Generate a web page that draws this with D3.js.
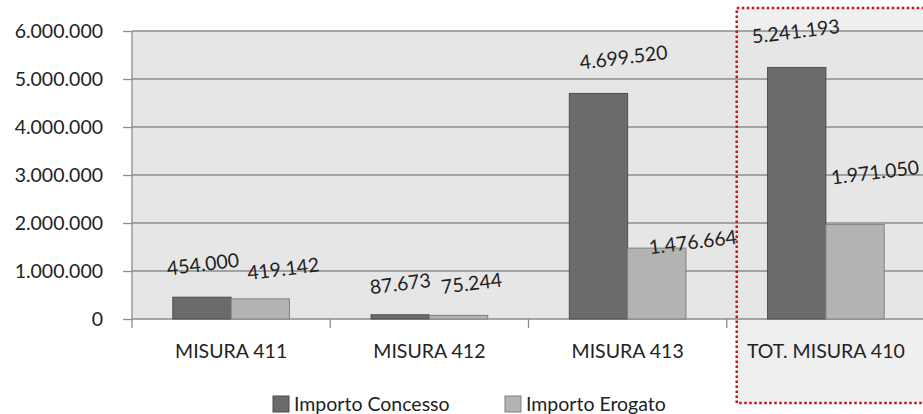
<!DOCTYPE html>
<html>
<head>
<meta charset="utf-8">
<script src="https://cdn.jsdelivr.net/npm/d3@7"></script>
<style>
  body { margin: 0; background: #fff; }
  text { font-family: Lato, "Open Sans", sans-serif; fill: #222; }
</style>
</head>
<body>
<div id="chart"></div>
<script>
// data
const CATEGORIES = ["MISURA 411", "MISURA 412", "MISURA 413", "TOT. MISURA 410"];
const SERIES = ["Importo Concesso", "Importo Erogato"];
const CONCESSO = [454000, 87673, 4699520, 5241193];
const EROGATO = [419142, 75244, 1476664, 1971050];
const Y_TICKS = [0, 1000000, 2000000, 3000000, 4000000, 5000000, 6000000];

// label nudges (the original labels were dragged by hand)
const NUDGE_CONCESSO = [[1, -33], [0, -31], [25, -36], [-1, -36]];
const NUDGE_EROGATO = [[23, -30], [13, -32], [36, -6], [20, -52]];

const WIDTH = 923, HEIGHT = 414;
const MARGIN = {top: 31, left: 132, right: -2, bottom: 95};
const COLORS = {fill: ["#6b6b6b", "#b3b3b3"], stroke: ["#4d4d4d", "#808080"]};
const FONT = "19.5px";

const fmt = d3.formatLocale({decimal: ",", thousands: ".", grouping: [3], currency: ["", "€"]}).format(",d");

const svg = d3.select("#chart").append("svg")
  .attr("width", WIDTH)
  .attr("height", HEIGHT);

const x = d3.scaleBand()
  .domain(CATEGORIES)
  .range([MARGIN.left, WIDTH - MARGIN.right]);

const x1 = d3.scaleBand()
  .domain(SERIES)
  .range([0, x.bandwidth()])
  .paddingOuter(0.7);

const y = d3.scaleLinear()
  .domain([0, 6000000])
  .range([HEIGHT - MARGIN.bottom, MARGIN.top]);

// highlight box behind the last category
svg.append("rect")
  .attr("x", x(CATEGORIES[3]) + 10)
  .attr("y", 8)
  .attr("width", 200)
  .attr("height", 395)
  .attr("fill", "#efefef");

// plot background
svg.append("rect")
  .attr("x", MARGIN.left)
  .attr("y", MARGIN.top)
  .attr("width", WIDTH - MARGIN.right - MARGIN.left)
  .attr("height", y(0) - MARGIN.top)
  .attr("fill", "#e6e6e6");

// grid + y axis
const yAxis = svg.append("g")
  .attr("transform", `translate(${MARGIN.left},0)`)
  .call(d3.axisLeft(y).tickValues(Y_TICKS).tickFormat(fmt).tickSize(9).tickPadding(20));
yAxis.select(".domain").remove();
yAxis.selectAll("text").style("font-size", FONT).attr("dy", "0.35em");
yAxis.selectAll(".tick line").attr("stroke", "#8c8c8c").attr("stroke-width", 1.3);

svg.append("g")
  .selectAll("line")
  .data(Y_TICKS)
  .join("line")
  .attr("x1", MARGIN.left)
  .attr("x2", WIDTH)
  .attr("y1", d => y(d))
  .attr("y2", d => y(d))
  .attr("stroke", "#8c8c8c")
  .attr("stroke-width", 1.3);

svg.append("line")
  .attr("x1", MARGIN.left).attr("x2", MARGIN.left)
  .attr("y1", MARGIN.top).attr("y2", y(0) + 9)
  .attr("stroke", "#8c8c8c")
  .attr("stroke-width", 1.3);

// category ticks
svg.append("g")
  .selectAll("line")
  .data(CATEGORIES.slice(1))
  .join("line")
  .attr("x1", d => x(d)).attr("x2", d => x(d))
  .attr("y1", y(0)).attr("y2", y(0) + 9)
  .attr("stroke", "#8c8c8c")
  .attr("stroke-width", 1.3);

// bars
const rows = CATEGORIES.map((c, i) => ({cat: c, values: [CONCESSO[i], EROGATO[i]], i: i}));

const groups = svg.append("g")
  .selectAll("g")
  .data(rows)
  .join("g")
  .attr("transform", d => `translate(${x(d.cat)},0)`);

groups.selectAll("rect")
  .data(d => d.values.map((v, s) => ({v: v, s: s, i: d.i})))
  .join("rect")
  .attr("x", d => x1(SERIES[d.s]))
  .attr("y", d => y(d.v))
  .attr("width", x1.bandwidth())
  .attr("height", d => y(0) - y(d.v))
  .attr("fill", d => COLORS.fill[d.s])
  .attr("stroke", d => COLORS.stroke[d.s])
  .attr("stroke-width", 1);

// value labels
groups.selectAll("text")
  .data(d => d.values.map((v, s) => ({v: v, s: s, i: d.i})))
  .join("text")
  .attr("transform", d => {
    const n = d.s === 0 ? NUDGE_CONCESSO[d.i] : NUDGE_EROGATO[d.i];
    const cx = x1(SERIES[d.s]) + x1.bandwidth() / 2 + n[0];
    const cy = y(d.v) + n[1];
    return `translate(${cx},${cy}) rotate(-7)`;
  })
  .attr("text-anchor", "middle")
  .attr("dy", "0.35em")
  .style("font-size", FONT)
  .text(d => fmt(d.v));

// category labels
svg.append("g")
  .selectAll("text")
  .data(CATEGORIES)
  .join("text")
  .attr("x", d => x(d) + x.bandwidth() / 2)
  .attr("y", y(0) + 32)
  .attr("dy", "0.35em")
  .attr("text-anchor", "middle")
  .style("font-size", FONT)
  .text(d => d);

// dotted red frame
svg.append("rect")
  .attr("x", x(CATEGORIES[3]) + 10)
  .attr("y", 8)
  .attr("width", 200)
  .attr("height", 395)
  .attr("fill", "none")
  .attr("stroke", "#c4141e")
  .attr("stroke-width", 2.5)
  .attr("stroke-dasharray", "2.5,2.5");

// legend
const LEGEND_X = [273, 505];
const legend = svg.append("g")
  .selectAll("g")
  .data(SERIES)
  .join("g")
  .attr("transform", (d, i) => `translate(${LEGEND_X[i]},396)`);

legend.append("rect")
  .attr("width", 16)
  .attr("height", 16)
  .attr("fill", (d, i) => COLORS.fill[i])
  .attr("stroke", (d, i) => COLORS.stroke[i]);

legend.append("text")
  .attr("x", 21)
  .attr("y", 8)
  .attr("dy", "0.35em")
  .style("font-size", FONT)
  .text(d => d);
</script>
</body>
</html>
